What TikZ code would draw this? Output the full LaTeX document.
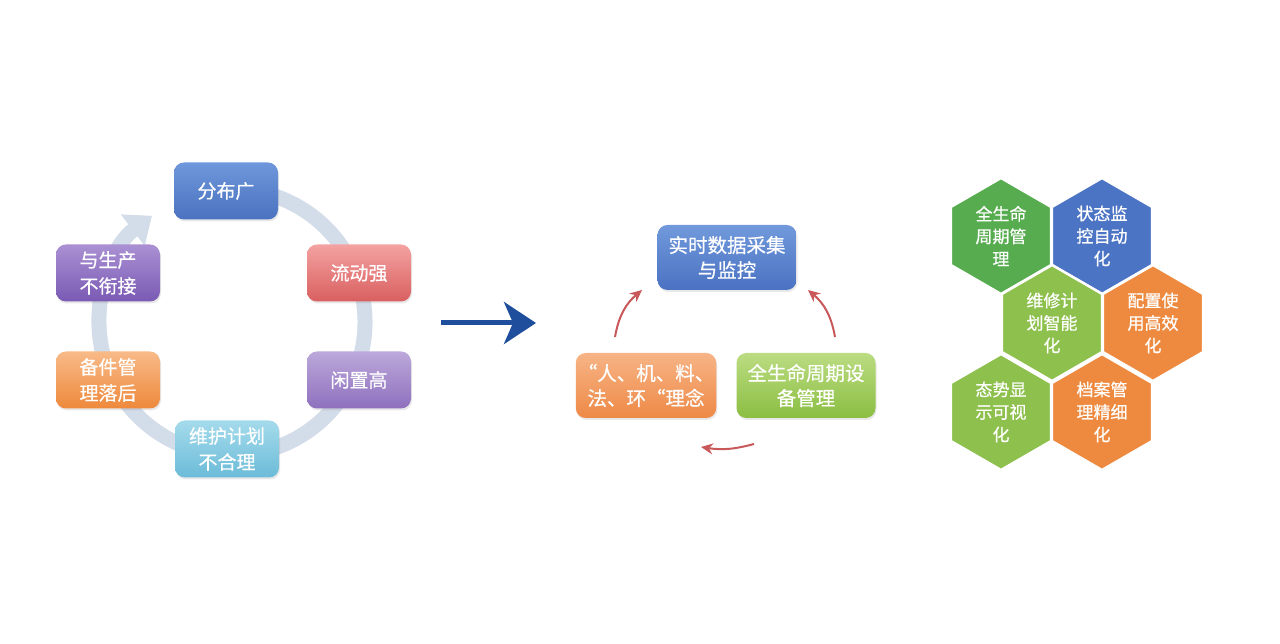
\documentclass[tikz,border=0pt]{standalone}
\usepackage{fontspec}
\setmainfont{Noto Sans CJK SC}
\newfontfamily\lbl[FakeBold=0.6]{Noto Sans CJK SC}
\usetikzlibrary{arrows.meta,shapes.geometric,shadows}
\definecolor{ringc}{HTML}{D3DCE9}
\definecolor{bigarrow}{HTML}{1F4E9C}
\definecolor{redarr}{HTML}{C9585A}
\definecolor{hexdg}{HTML}{56AC4E}
\definecolor{hexbl}{HTML}{4C74C4}
\definecolor{hexlg}{HTML}{8DC04C}
\definecolor{hexor}{HTML}{ED8A3F}
\definecolor{blueT}{HTML}{6F97DB}\definecolor{blueB}{HTML}{4A72C0}
\definecolor{redT}{HTML}{F4A2A2}\definecolor{redB}{HTML}{D95F5F}
\definecolor{lavT}{HTML}{BCA9DA}\definecolor{lavB}{HTML}{8E70BE}
\definecolor{cyanT}{HTML}{A5DBEC}\definecolor{cyanB}{HTML}{6CBBD8}
\definecolor{orT}{HTML}{F8BA88}\definecolor{orB}{HTML}{EE893C}
\definecolor{purT}{HTML}{AA90D3}\definecolor{purB}{HTML}{7A5AB4}
\definecolor{mblT}{HTML}{7199DB}\definecolor{mblB}{HTML}{4A72C2}
\definecolor{morT}{HTML}{F7B486}\definecolor{morB}{HTML}{EE8946}
\definecolor{mgrT}{HTML}{BBDC82}\definecolor{mgrB}{HTML}{8BBE42}
\tikzset{
  box/.style={rounded corners=10pt, minimum width=104pt, minimum height=57pt, align=center,
    text=white, font=\lbl\fontsize{19}{26}\selectfont, inner sep=2pt,
    drop shadow={opacity=0.18, shadow xshift=1pt, shadow yshift=-2pt}},
  mbox/.style={box, minimum width=139pt, minimum height=65pt, font=\lbl\fontsize{19.5}{25}\selectfont},
  hexa/.style={regular polygon, regular polygon sides=6, shape border rotate=30,
    minimum size=116pt, inner sep=0pt, draw=white, line width=2.5pt, align=center,
    text=white, font=\lbl\fontsize{17}{22.5}\selectfont},
  redarrow/.style={draw=redarr, line width=2pt, -{Stealth[length=12pt,width=11pt]}},
}
\begin{document}
\begin{tikzpicture}[x=1pt,y=1pt]
\useasboundingbox[fill=white] (0,0) rectangle (1280,644);
% left cycle
\coordinate (c) at (232,322);
\draw[ringc, line width=15pt, -{Triangle[width=38pt,length=24pt]}]
  ([shift={(100:133)}]c) arc[start angle=100, end angle=-233, radius=133];
\node[box, top color=blueT, bottom color=blueB] (b1) at (226,453) {分布广};
\node[box, top color=redT, bottom color=redB] (b2) at (359,371) {流动强};
\node[box, top color=lavT, bottom color=lavB] (b3) at (359,264) {闲置高};
\node[box, top color=cyanT, bottom color=cyanB] (b4) at (227,195) {维护计划\\不合理};
\node[box, top color=orT, bottom color=orB] (b5) at (108,264) {备件管\\理落后};
\node[box, top color=purT, bottom color=purB] (b6) at (108,371) {与生产\\不衔接};
% big arrow
\coordinate (a1) at (441,321);
\coordinate (a2) at (536,321);
\draw[bigarrow, line width=5pt, -{Stealth[length=32pt,width=42pt,inset=9pt]}] (a1) -- (a2);
% middle cycle
\node[mbox, top color=mblT, bottom color=mblB] (m1) at (727,386.5) {实时数据采集\\与监控};
\node[mbox, top color=morT, bottom color=morB] (m2) at (646,258.5) {“人、机、料、\\法、环“理念};
\node[mbox, top color=mgrT, bottom color=mgrB] (m3) at (806,258.5) {全生命周期设\\备管理};
\coordinate (l1) at (615,307);
\coordinate (l2) at (642,354);
\coordinate (r1) at (835,307);
\coordinate (r2) at (808,354);
\coordinate (d1) at (754,200);
\coordinate (d2) at (701,197);
\draw[redarrow] (l1) to[bend left=20] (l2);
\draw[redarrow] (r1) to[bend right=20] (r2);
\draw[redarrow] (d1) to[bend left=12] (d2);
% hexagons
\node[hexa, fill=hexdg] (h1) at (1001,408) {全生命\\周期管\\理};
\node[hexa, fill=hexbl] (h2) at (1102,408) {状态监\\控自动\\化};
\node[hexa, fill=hexlg] (h3) at (1052,321) {维修计\\划智能\\化};
\node[hexa, fill=hexor] (h4) at (1153,321) {配置使\\用高效\\化};
\node[hexa, fill=hexlg] (h5) at (1001,232) {态势显\\示可视\\化};
\node[hexa, fill=hexor] (h6) at (1102,232) {档案管\\理精细\\化};
\end{tikzpicture}
\end{document}
